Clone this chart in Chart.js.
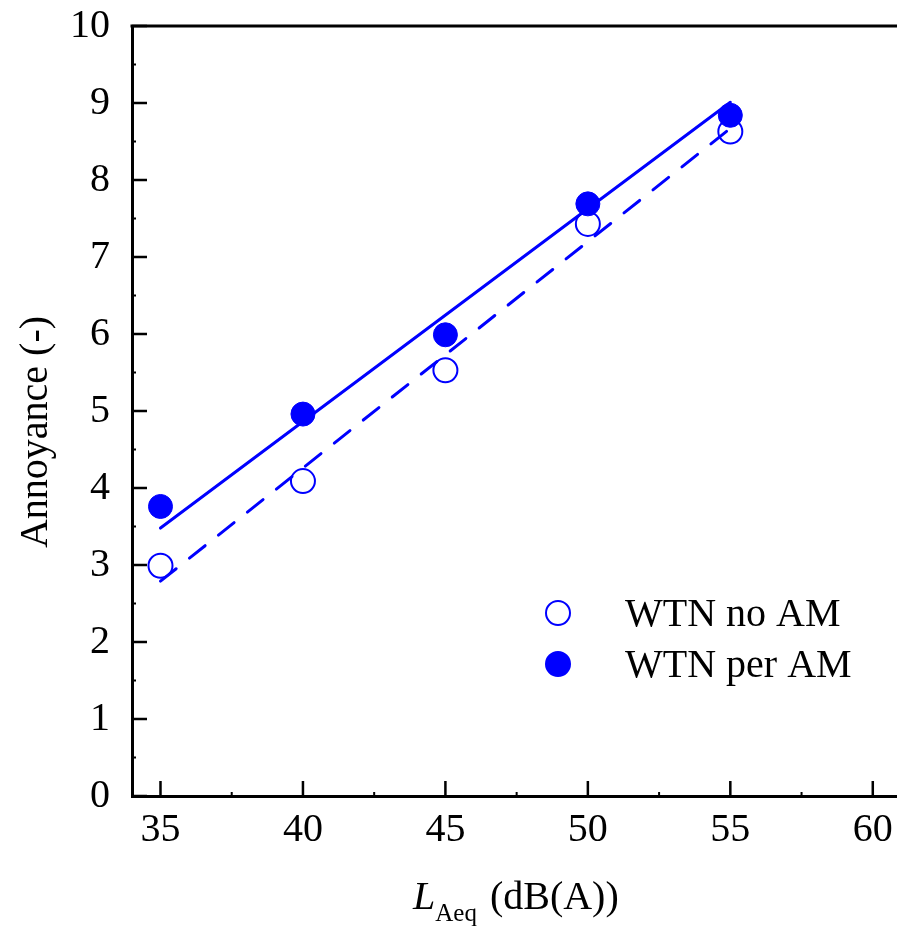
<!DOCTYPE html>
<html>
<head>
<meta charset="utf-8">
<script src="https://cdn.jsdelivr.net/npm/chart.js@4"></script>
<style>
  html, body { margin: 0; padding: 0; background: #fff; overflow: hidden; }
  #wrap { width: 897px; height: 930px; position: relative; }
  canvas { display: block; }
</style>
</head>
<body>
<div id="wrap"><canvas id="myChart" width="897" height="930"></canvas></div>
<script>
// levels (dB(A))
const levels = [35, 40, 45, 50, 55];
const noAM = [2.99, 4.09, 5.53, 7.43, 8.63];
const perAM = [3.76, 4.96, 5.99, 7.69, 8.84];

// fitted lines, end points only
const fitX = [35, 55];
const fitNoAM = [2.79, 8.67];
const fitPerAM = [3.48, 9.01];

const xMajor = [35, 40, 45, 50, 55, 60];
const xMinor = [37.5, 42.5, 47.5, 52.5, 57.5];
const yMajor = [0, 1, 2, 3, 4, 5, 6, 7, 8, 9, 10];
const yMinor = [0.5, 1.5, 2.5, 3.5, 4.5, 5.5, 6.5, 7.5, 8.5, 9.5];

const legendNames = ["WTN no AM", "WTN per AM"];
const blue = "#0000ff";
const serif = "'Liberation Serif', 'Times New Roman', serif";

function pts(xs, ys) {
  return xs.map((x, i) => ({ x: x, y: ys[i] }));
}

function noPad(scale) {
  scale.paddingLeft = 0;
  scale.paddingRight = 0;
  scale.paddingTop = 0;
  scale.paddingBottom = 0;
}

// inward ticks, top border, axis titles, legend
const decor = {
  id: "decor",
  afterDraw(chart) {
    const ctx = chart.ctx;
    const a = chart.chartArea;
    const xs = chart.scales.x;
    const ys = chart.scales.y;
    ctx.save();
    ctx.strokeStyle = "#000";
    ctx.lineWidth = 3;
    ctx.beginPath();
    ctx.moveTo(a.left - 1.5, a.top);
    ctx.lineTo(a.right, a.top);
    ctx.stroke();

    ctx.lineWidth = 2.5;
    ctx.beginPath();
    xMajor.forEach(v => {
      const p = xs.getPixelForValue(v);
      ctx.moveTo(p, a.bottom); ctx.lineTo(p, a.bottom - 15);
    });
    yMajor.forEach(v => {
      const p = ys.getPixelForValue(v);
      ctx.moveTo(a.left, p); ctx.lineTo(a.left + 15, p);
    });
    ctx.stroke();
    ctx.lineWidth = 2;
    ctx.beginPath();
    xMinor.forEach(v => {
      const p = xs.getPixelForValue(v);
      ctx.moveTo(p, a.bottom); ctx.lineTo(p, a.bottom - 4);
    });
    yMinor.forEach(v => {
      const p = ys.getPixelForValue(v);
      ctx.moveTo(a.left, p); ctx.lineTo(a.left + 4, p);
    });
    ctx.stroke();

    // y title
    ctx.fillStyle = "#000";
    ctx.font = "40px " + serif;
    ctx.textAlign = "center";
    ctx.textBaseline = "middle";
    ctx.save();
    ctx.translate(36, 432);
    ctx.rotate(-Math.PI / 2);
    ctx.fillText("Annoyance (-)", 0, 0);
    ctx.restore();

    // x title with subscript
    ctx.textAlign = "left";
    ctx.textBaseline = "alphabetic";
    let x = 413;
    const base = 909;
    ctx.font = "italic 40px " + serif;
    ctx.fillText("L", x, base);
    x += ctx.measureText("L").width;
    ctx.font = "25px " + serif;
    ctx.fillText("Aeq", x, base + 12);
    x += ctx.measureText("Aeq").width + 3;
    ctx.font = "40px " + serif;
    ctx.fillText(" (dB(A))", x, base);

    // legend
    const lx = 558, rows = [613, 664];
    rows.forEach((ly, i) => {
      ctx.beginPath();
      ctx.arc(lx, ly, 12, 0, Math.PI * 2);
      ctx.strokeStyle = blue;
      ctx.lineWidth = 2;
      if (i === 1) { ctx.fillStyle = blue; ctx.fill(); }
      ctx.stroke();
      ctx.fillStyle = "#000";
      ctx.font = "40px " + serif;
      ctx.textBaseline = "middle";
      ctx.fillText(legendNames[i], 625, ly + 2);
    });
    ctx.restore();
  }
};

const ctx = document.getElementById("myChart");
new Chart(ctx, {
  type: "scatter",
  data: {
    datasets: [
      {
        label: legendNames[0],
        data: pts(levels, noAM),
        pointRadius: 12,
        pointBorderWidth: 2,
        pointBackgroundColor: "rgba(0,0,0,0)",
        pointBorderColor: blue,
        showLine: false,
        order: 0,
      },
      {
        label: legendNames[1],
        data: pts(levels, perAM),
        pointRadius: 12,
        pointBorderWidth: 1,
        pointBackgroundColor: blue,
        pointBorderColor: blue,
        showLine: false,
        order: 0,
      },
      {
        label: "fit no AM",
        data: pts(fitX, fitNoAM),
        showLine: true,
        pointRadius: 0,
        borderColor: blue,
        borderWidth: 3,
        borderDash: [20, 17],
        borderCapStyle: "round",
        order: 1,
      },
      {
        label: "fit per AM",
        data: pts(fitX, fitPerAM),
        showLine: true,
        pointRadius: 0,
        borderColor: blue,
        borderWidth: 3,
        borderCapStyle: "round",
        order: 1,
      },
    ],
  },
  options: {
    responsive: false,
    animation: false,
    devicePixelRatio: 1,
    layout: { autoPadding: false, padding: { top: 26, left: 0, right: 0, bottom: 0 } },
    plugins: { legend: { display: false }, tooltip: { enabled: false } },
    scales: {
      x: {
        type: "linear",
        min: 34,
        max: 60.85,
        grid: { display: false },
        border: { display: true, color: "#000", width: 3 },
        ticks: {
          stepSize: 5,
          includeBounds: false,
          color: "#000",
          padding: 2,
          font: { family: serif, size: 40 },
        },
        afterFit(scale) {
          scale.height = 134;
          noPad(scale);
        },
      },
      y: {
        min: 0,
        max: 10,
        grid: { display: false },
        border: { display: true, color: "#000", width: 3 },
        ticks: {
          stepSize: 1,
          color: "#000",
          padding: 14,
          font: { family: serif, size: 40 },
        },
        afterFit(scale) {
          scale.width = 132;
          noPad(scale);
        },
      },
    },
  },
  plugins: [decor],
});
</script>
</body>
</html>
